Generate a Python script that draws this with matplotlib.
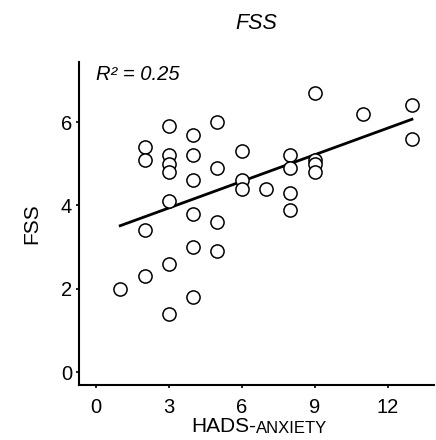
import numpy as np
import matplotlib
matplotlib.use("Agg")
import matplotlib.pyplot as plt

plt.rcParams["font.family"] = ["Liberation Sans", "DejaVu Sans"]

# HADS-anxiety score vs FSS score
hads = [1,
        2, 2, 2, 2,
        3, 3, 3, 3, 3, 3, 3,
        4, 4, 4, 4, 4, 4,
        5, 5, 5, 5,
        6, 6, 6,
        7,
        8, 8, 8, 8,
        9, 9, 9, 9,
        11,
        13, 13]
fss = [2.0,
       5.4, 5.1, 3.4, 2.3,
       5.9, 5.2, 5.0, 4.8, 4.1, 2.6, 1.4,
       5.7, 5.2, 4.6, 3.8, 3.0, 1.8,
       6.0, 4.9, 3.6, 2.9,
       5.3, 4.6, 4.4,
       4.4,
       5.2, 4.9, 4.3, 3.9,
       6.7, 5.1, 5.0, 4.8,
       6.2,
       6.4, 5.6]
x_ticks = [0, 3, 6, 9, 12]
y_ticks = [0, 2, 4, 6]
r2_label = "R² = 0.25"

x = np.array(hads, dtype=float)
y = np.array(fss, dtype=float)
slope, intercept = np.polyfit(x, y, 1)

fig = plt.figure(figsize=(4.36, 4.40), dpi=100)
ax = fig.add_axes([0.181, 0.125, 0.814, 0.734])

ax.scatter(x, y, s=90, facecolors="white", edgecolors="black", linewidths=1.1, zorder=3)
xl = np.array([x.min(), x.max()])
ax.plot(xl, slope * xl + intercept, color="black", lw=2.0, zorder=2)

ax.set_xlim(-0.70, 13.9)
ax.set_ylim(-0.31, 7.44)
ax.set_xticks(x_ticks)
ax.set_yticks(y_ticks)
ax.tick_params(labelsize=14.5, length=2, width=1.2, direction="out")
ax.tick_params(axis="x", pad=7)
ax.tick_params(axis="y", pad=3)
for side in ("top", "right"):
    ax.spines[side].set_visible(False)
for side in ("left", "bottom"):
    ax.spines[side].set_linewidth(1.5)

ax.set_ylabel("FSS", fontsize=15, labelpad=14)
ax.set_title("FSS", fontsize=15.5, style="italic", pad=24)
ax.text(0.0, 7.0, r2_label, fontsize=14.5, style="italic")

# small-caps style x label
t1 = fig.text(0.588, 0.018, "HADS-", fontsize=15, ha="right", va="baseline")
ax.annotate("ANXIETY", xy=(1, 0), xycoords=t1, fontsize=12, ha="left", va="bottom")

fig.savefig("out.png", dpi=100)
